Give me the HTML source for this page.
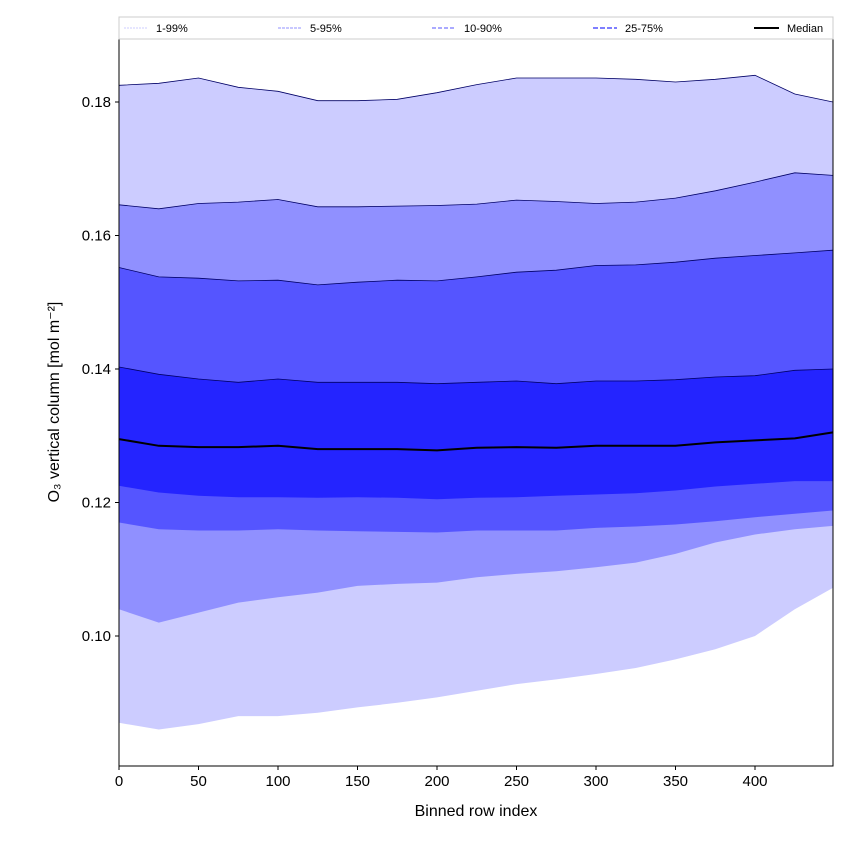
<!DOCTYPE html>
<html><head><meta charset="utf-8"><style>
body{margin:0;background:#fff;font-family:"Liberation Sans","DejaVu Sans",sans-serif;}
</style></head><body>
<svg id="chart" width="850" height="850" xmlns="http://www.w3.org/2000/svg"></svg>
<script>
const xs=[0,25,50,75,100,125,150,175,200,225,250,275,300,325,350,375,400,425,449];
const p99=[.1825,.1828,.1836,.1822,.1816,.1802,.1802,.1804,.1814,.1826,.1836,.1836,.1836,.1834,.1830,.1834,.1840,.1812,.1800];
const p95=[.1646,.1640,.1648,.1650,.1654,.1643,.1643,.1644,.1645,.1647,.1653,.1651,.1648,.1650,.1656,.1667,.1680,.1694,.1690];
const p90=[.1552,.1538,.1536,.1532,.1533,.1526,.1530,.1533,.1532,.1538,.1545,.1548,.1555,.1556,.1560,.1566,.1570,.1574,.1578];
const p75=[.1403,.1392,.1385,.1380,.1385,.1380,.1380,.1380,.1378,.1380,.1382,.1378,.1382,.1382,.1384,.1388,.1390,.1398,.1400];
const med=[.1295,.1285,.1283,.1283,.1285,.1280,.1280,.1280,.1278,.1282,.1283,.1282,.1285,.1285,.1285,.1290,.1293,.1296,.1305];
const p25=[.1225,.1215,.1210,.1208,.1208,.1207,.1208,.1207,.1205,.1207,.1208,.1210,.1212,.1214,.1218,.1224,.1228,.1232,.1232];
const p10=[.1170,.1160,.1158,.1158,.1160,.1158,.1157,.1156,.1155,.1158,.1158,.1158,.1162,.1164,.1167,.1172,.1178,.1183,.1188];
const p5=[.1040,.1020,.1035,.1050,.1058,.1065,.1075,.1078,.1080,.1088,.1093,.1097,.1103,.1110,.1123,.1140,.1152,.1160,.1165];
const p1=[.0870,.0860,.0868,.0880,.0880,.0885,.0893,.0900,.0908,.0918,.0928,.0935,.0943,.0952,.0965,.0980,.1000,.1040,.1072];
const xTicks=[0,50,100,150,200,250,300,350,400];
const yTicks=[0.10,0.12,0.14,0.16,0.18];

const L=119,R=833,T=39,B=766;
const X=v=>L+v*1.59;
const Y=v=>102+(0.18-v)*6675;
const NS="http://www.w3.org/2000/svg";
const svg=document.getElementById('chart');
function mk(t,a,p){const e=document.createElementNS(NS,t);for(const k in a)e.setAttribute(k,a[k]);(p||svg).appendChild(e);return e;}
const ln=arr=>xs.map((x,i)=>X(x).toFixed(1)+','+Y(arr[i]).toFixed(1));
function band(lo,hi,col,name){
  const pts=ln(hi).concat(ln(lo).reverse()).join(' ');
  const e=mk('polygon',{points:pts,fill:col,stroke:'none'});
  
  
}
mk('clipPath',{id:'clip'}).appendChild(document.createElementNS(NS,'rect'));
band(p1,p99,'#ccccff','band-1-99');
band(p5,p95,'#9090ff','band-5-95');
band(p10,p90,'#5555ff','band-10-90');
band(p25,p75,'#2424ff','band-25-75');
[[p99,'line-p99'],[p95,'line-p95'],[p90,'line-p90'],[p75,'line-p75']].forEach(([a,n])=>{
  const e=mk('polyline',{points:ln(a).join(' '),fill:'none',stroke:'#000066','stroke-width':0.8});
  
  
});
const m=mk('polyline',{points:ln(med).join(' '),fill:'none',stroke:'#000','stroke-width':2});


const fr=mk('rect',{x:L,y:T,width:R-L,height:B-T,fill:'none',stroke:'#000','stroke-width':1});


xTicks.forEach(t=>{
  mk('line',{x1:X(t),x2:X(t),y1:B,y2:B+4,stroke:'#000'});
  const e=mk('text',{x:X(t),y:B+20,'text-anchor':'middle','font-size':15});
  e.textContent=t;
  
  
});
yTicks.forEach(t=>{
  mk('line',{x1:L-4,x2:L,y1:Y(t),y2:Y(t),stroke:'#000'});
  const e=mk('text',{x:L-8,y:Y(t)+5,'text-anchor':'end','font-size':15});
  e.textContent=t.toFixed(2);
  
  
});
</script>
<svg width="850" height="850" style="position:absolute;left:0;top:0" xmlns="http://www.w3.org/2000/svg">
<text x="476" y="816" text-anchor="middle" font-size="16" font-family="Liberation Sans, sans-serif">Binned row index</text>
<text transform="translate(59,402) rotate(-90)" text-anchor="middle" font-size="16" font-family="Liberation Sans, DejaVu Sans, sans-serif">O₃ vertical column [mol m⁻²]</text>
<g font-size="11" font-family="Liberation Sans, sans-serif">
<rect x="119" y="17" width="714" height="22" fill="#fff" stroke="#ccc"/>
<g><line x1="124" x2="148" y1="28" y2="28" stroke="#ccccff" stroke-dasharray="2,1"/><text x="156" y="32">1-99%</text></g>
<g><line x1="278" x2="302" y1="28" y2="28" stroke="#9090ff" stroke-dasharray="3,1"/><text x="310" y="32">5-95%</text></g>
<g><line x1="432" x2="456" y1="28" y2="28" stroke="#7777ff" stroke-width="1.2" stroke-dasharray="4,2"/><text x="464" y="32">10-90%</text></g>
<g><line x1="593" x2="617" y1="28" y2="28" stroke="#5555ff" stroke-width="1.6" stroke-dasharray="5,2"/><text x="625" y="32">25-75%</text></g>
<g><line x1="754" x2="779" y1="28" y2="28" stroke="#000" stroke-width="2"/><text x="787" y="32">Median</text></g>
</g>
</svg>
</body></html>
